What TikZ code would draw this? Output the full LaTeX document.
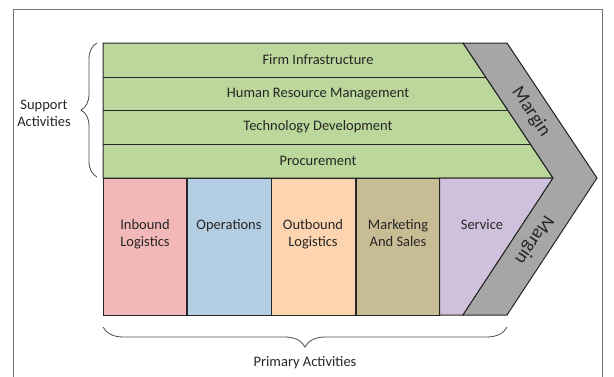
\documentclass[tikz,border=0pt]{standalone}
\usepackage{fontspec}
\setmainfont{Carlito}
\usetikzlibrary{decorations.pathreplacing}

\definecolor{supportgreen}{HTML}{BCD79B}
\definecolor{inboundpink}{HTML}{F2B8B8}
\definecolor{operblue}{HTML}{B3CDE3}
\definecolor{outpeach}{HTML}{FCD5B0}
\definecolor{salekhaki}{HTML}{C8BC94}
\definecolor{servlilac}{HTML}{CFC1DC}
\definecolor{margingray}{HTML}{A6A6A6}

\tikzset{
	labeltext/.style={font=\fontsize{14.5}{17}\selectfont, align=center, text=black!85},
	margintext/.style={font=\fontsize{19}{22}\selectfont, text=black!85, inner sep=0pt},
	blockline/.style={draw=black!85, line width=1pt},
	bracestyle/.style={decorate, draw=black!70, line width=0.8pt}
}

\begin{document}
\begin{tikzpicture}[x=1pt,y=-1pt]
				% picture size and outer frame
				\useasboundingbox (0,0) rectangle (614,376);
				\draw[black!55, line width=0.8pt] (13,9) rectangle (602,400);
				
				% support activities: one green block with row lines
				\draw[blockline, fill=supportgreen] (103,43) -- (463,43) -- (553,178) -- (103,178) -- cycle;
				\foreach \y in {77,110,144}
					\draw[blockline] (103,\y) -- ({463+(\y-43)*2/3},\y);
				
				% primary activities
				\foreach \x/\c in {103/inboundpink,187.5/operblue,271.5/outpeach,356/salekhaki}
					\draw[blockline, fill=\c] (\x,178) rectangle ++(83.5,137);
				\draw[blockline, fill=servlilac] (439.5,178) -- (553,178) -- (463,315) -- (439.5,315) -- cycle;
				
				% margin chevron
				\draw[blockline, fill=margingray] (463,43) -- (507,43) -- (597,178) -- (507,315) -- (463,315) -- (553,178) -- cycle;
				
				% row labels
				\node[labeltext] (firm) at (318,60) {Firm Infrastructure};
				\node[labeltext] (hrm) at (318,94) {Human Resource Management};
				\node[labeltext] (tech) at (318,127) {Technology Development};
				\node[labeltext] (proc) at (318,161) {Procurement};
				
				% column labels
				\node[labeltext, anchor=north] (inbound) at (145,216) {Inbound\\Logistics};
				\node[labeltext, anchor=north] (oper) at (229,216) {Operations};
				\node[labeltext, anchor=north] (outbound) at (313,216) {Outbound\\Logistics};
				\node[labeltext, anchor=north] (sales) at (398,216) {Marketing\\And Sales};
				\node[labeltext, anchor=north] (service) at (482,216) {Service};
				
				% margin labels along the chevron
				\node[margintext, rotate=-56.3] (margintop) at (531,112) {Margin};
				\node[margintext, rotate=-123.7] (marginbot) at (534,240) {Margin};
				
				% braces
				\draw[bracestyle, decoration={brace, amplitude=16pt}] (97,177) -- (97,43);
				\draw[bracestyle, decoration={brace, amplitude=20pt}] (507,327) -- (103,327);
				\node[labeltext] (support) at (44,113) {Support\\Activities};
				\node[labeltext] (primary) at (305,363) {Primary Activities};
				
\end{tikzpicture}
\end{document}
